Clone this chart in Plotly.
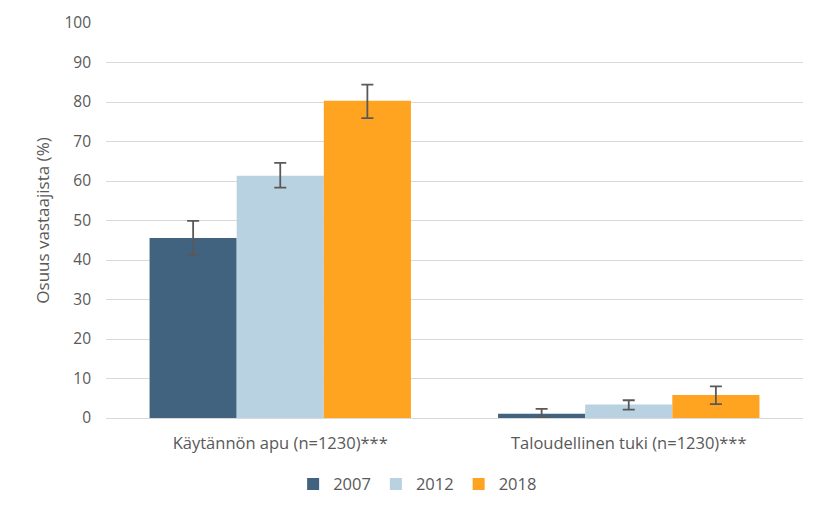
import plotly.graph_objects as go

categories = ["Käytännön apu (n=1230)***", "Taloudellinen tuki (n=1230)***"]
years = ["2007", "2012", "2018"]
values_2007 = [45.6, 1.1]
values_2012 = [61.3, 3.4]
values_2018 = [80.3, 5.8]
err_plus_2007 = [4.3, 1.2]
err_minus_2007 = [4.3, 1.0]
err_plus_2012 = [3.3, 1.1]
err_minus_2012 = [3.0, 1.3]
err_plus_2018 = [4.1, 2.2]
err_minus_2018 = [4.4, 2.3]
colors = ["#41637f", "#b9d2e1", "#ffa420"]

series = [
    (values_2007, err_plus_2007, err_minus_2007),
    (values_2012, err_plus_2012, err_minus_2012),
    (values_2018, err_plus_2018, err_minus_2018),
]

font_family = "'Open Sans', sans-serif"
fig = go.Figure()
for name, (vals, ep, em), c in zip(years, series, colors):
    fig.add_trace(go.Bar(
        x=categories, y=vals, name=name,
        marker=dict(color=c, line=dict(width=0)),
        error_y=dict(type="data", array=ep, arrayminus=em, symmetric=False,
                     color="#595959", thickness=1.8, width=6),
    ))

fig.update_layout(
    width=827, height=520,
    margin=dict(l=106, r=24, t=23, b=102),
    barmode="group", bargap=0.25, bargroupgap=0,
    plot_bgcolor="white", paper_bgcolor="white",
    font=dict(family=font_family, color="#595959", size=14),
    legend=dict(orientation="h", xref="container", x=0.505, xanchor="center",
                yref="container", y=0.035, yanchor="bottom",
                font=dict(size=16.5, color="#595959"), traceorder="normal",
                itemwidth=30, tracegroupgap=0),
    showlegend=True,
)
fig.update_yaxes(range=[0, 100], dtick=10, showgrid=True, gridcolor="#d9d9d9",
                 gridwidth=1, zeroline=False, showline=False,
                 ticks="", ticklabelstandoff=14, tickfont=dict(size=15.5, color="#595959"),
                 title=dict(text="Osuus vastaajista (%)", font=dict(size=17, color="#595959"), standoff=10))
fig.update_xaxes(showline=True, linecolor="#d9d9d9", linewidth=1, ticks="",
                 ticklabelstandoff=10, tickfont=dict(size=16.5, color="#595959"))

fig.write_html("out.html")
